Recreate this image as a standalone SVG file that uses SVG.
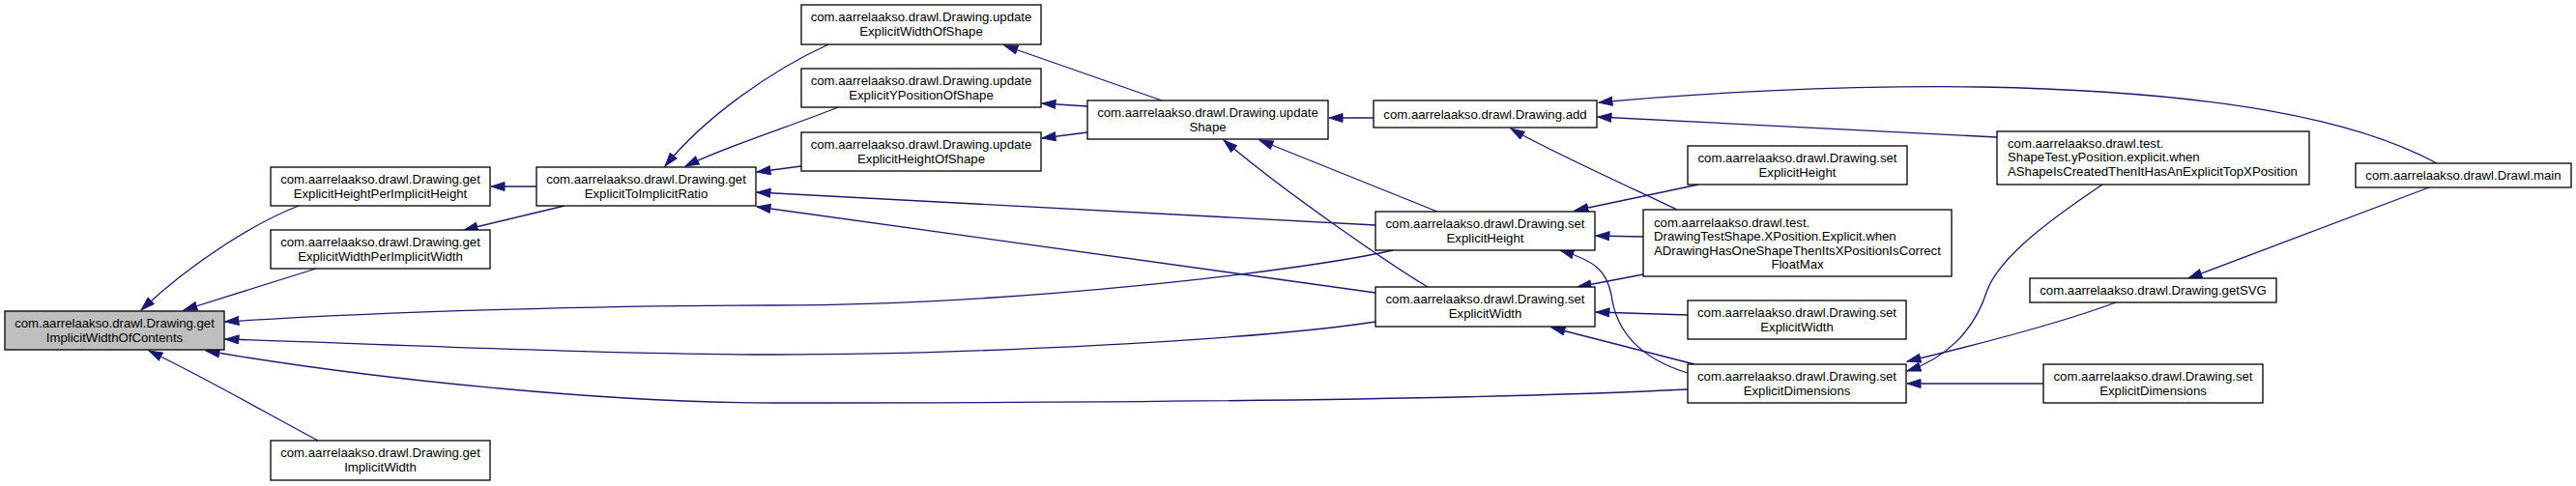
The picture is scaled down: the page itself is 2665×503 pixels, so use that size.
<svg xmlns="http://www.w3.org/2000/svg" width="2665" height="503" viewBox="0 0 2665 503">
<style>
.n rect{fill:#ffffff;stroke:#000000;stroke-width:1.3}
.n.root rect{fill:#bfbfbf}
.n text{font-family:"Liberation Sans",Arial,sans-serif;font-size:13.2px;fill:#000000;text-anchor:middle}
.n text.l{text-anchor:start}
#edges path{fill:none;stroke:#191970;stroke-width:1.3;marker-end:url(#ah)}
</style>
<defs>
<marker id="ah" markerUnits="userSpaceOnUse" markerWidth="16" markerHeight="12" refX="14.5" refY="5" orient="auto">
<path d="M0.5,0.5 L14.5,5 L0.5,9.5 z" fill="#191970" stroke="#191970" stroke-width="1"/>
</marker>
</defs>
<rect x="0" y="0" width="2665" height="503" fill="#ffffff"/>
<g id="edges">
<path d="M309,213 C265,230 200,270 146,321"/>
<path d="M327,278 L190,321"/>
<path d="M555,193 L508,193"/>
<path d="M584,213 L480,238"/>
<path d="M1441,259 C1350,280 1050,316 800,316 C640,316 400,322 233,333"/>
<path d="M1423,333 C1300,352 1000,367 800,367 C640,367 420,357 233,351"/>
<path d="M1746,403 C1500,415 1100,417 800,417 C640,417 400,395 213,363"/>
<path d="M329,456 C280,430 220,395 154,363"/>
<path d="M857,46 C800,72 730,120 688,172"/>
<path d="M867,111 C820,130 755,150 709,172"/>
<path d="M829,172 L783,178"/>
<path d="M1423,233 L783,199"/>
<path d="M1423,303 L783,214"/>
<path d="M1202,104 L1039,47"/>
<path d="M1125,110 L1078,107"/>
<path d="M1125,137 L1078,143"/>
<path d="M1421,122 L1375,122"/>
<path d="M1487,219 L1303,145"/>
<path d="M1477,297 C1445,278 1330,200 1266,145"/>
<path d="M1757,191 L1629,218"/>
<path d="M1700,245 L1651,244"/>
<path d="M1700,284 L1632,297"/>
<path d="M1735,217 C1700,200 1600,155 1563,133"/>
<path d="M1746,326 L1651,323"/>
<path d="M1753,377 L1605,339"/>
<path d="M1746,386 C1700,372 1672,345 1667,305 C1662,280 1650,270 1614,259"/>
<path d="M2114,397 L1973,397"/>
<path d="M2189,313 C2130,335 2040,358 1973,374"/>
<path d="M2175,191 C2120,228 2070,265 2056,300 C2042,345 2010,372 1973,384"/>
<path d="M2513,194 L2264,288"/>
<path d="M2521,169 C2440,125 2300,95 2050,90 C1900,88 1750,97 1654,106"/>
<path d="M2066,142 L1653,121"/>
</g>
<g id="n_root" class="n root"><rect x="5" y="322" width="227" height="40"/><text x="118.5" y="339">com.aarrelaakso.drawl.Drawing.get</text><text x="118.5" y="353.5">ImplicitWidthOfContents</text></g>
<g id="n_ehpih" class="n"><rect x="280" y="173" width="227" height="40"/><text x="393.5" y="190">com.aarrelaakso.drawl.Drawing.get</text><text x="393.5" y="204.5">ExplicitHeightPerImplicitHeight</text></g>
<g id="n_ewpiw" class="n"><rect x="280" y="238" width="227" height="40"/><text x="393.5" y="255">com.aarrelaakso.drawl.Drawing.get</text><text x="393.5" y="269.5">ExplicitWidthPerImplicitWidth</text></g>
<g id="n_giw" class="n"><rect x="280" y="456" width="227" height="41"/><text x="393.5" y="473">com.aarrelaakso.drawl.Drawing.get</text><text x="393.5" y="487.5">ImplicitWidth</text></g>
<g id="n_ratio" class="n"><rect x="555" y="173" width="227" height="40"/><text x="668.5" y="190">com.aarrelaakso.drawl.Drawing.get</text><text x="668.5" y="204.5">ExplicitToImplicitRatio</text></g>
<g id="n_uews" class="n"><rect x="829" y="5" width="248" height="41"/><text x="953" y="22">com.aarrelaakso.drawl.Drawing.update</text><text x="953" y="36.5">ExplicitWidthOfShape</text></g>
<g id="n_ueyps" class="n"><rect x="829" y="71" width="248" height="40"/><text x="953" y="88">com.aarrelaakso.drawl.Drawing.update</text><text x="953" y="102.5">ExplicitYPositionOfShape</text></g>
<g id="n_uehs" class="n"><rect x="829" y="137" width="248" height="40"/><text x="953" y="154">com.aarrelaakso.drawl.Drawing.update</text><text x="953" y="168.5">ExplicitHeightOfShape</text></g>
<g id="n_us" class="n"><rect x="1125" y="104" width="249" height="40"/><text x="1249.5" y="121">com.aarrelaakso.drawl.Drawing.update</text><text x="1249.5" y="135.5">Shape</text></g>
<g id="n_add" class="n"><rect x="1421" y="104" width="231" height="28"/><text x="1536.5" y="122.5">com.aarrelaakso.drawl.Drawing.add</text></g>
<g id="n_seh" class="n"><rect x="1423" y="219" width="227" height="40"/><text x="1536.5" y="236">com.aarrelaakso.drawl.Drawing.set</text><text x="1536.5" y="250.5">ExplicitHeight</text></g>
<g id="n_sew" class="n"><rect x="1423" y="297" width="227" height="41"/><text x="1536.5" y="314">com.aarrelaakso.drawl.Drawing.set</text><text x="1536.5" y="328.5">ExplicitWidth</text></g>
<g id="n_seh2" class="n"><rect x="1746" y="151" width="227" height="40"/><text x="1859.5" y="168">com.aarrelaakso.drawl.Drawing.set</text><text x="1859.5" y="182.5">ExplicitHeight</text></g>
<g id="n_dts" class="n"><rect x="1700" y="217" width="319" height="69"/><text class="l" x="1711" y="234.5">com.aarrelaakso.drawl.test.</text><text class="l" x="1711" y="249">DrawingTestShape.XPosition.Explicit.when</text><text class="l" x="1711" y="263.5">ADrawingHasOneShapeThenItsXPositionIsCorrect</text><text x="1859.5" y="278">FloatMax</text></g>
<g id="n_sew2" class="n"><rect x="1746" y="311" width="226" height="40"/><text x="1859" y="328">com.aarrelaakso.drawl.Drawing.set</text><text x="1859" y="342.5">ExplicitWidth</text></g>
<g id="n_sed" class="n"><rect x="1746" y="377" width="226" height="40"/><text x="1859" y="394">com.aarrelaakso.drawl.Drawing.set</text><text x="1859" y="408.5">ExplicitDimensions</text></g>
<g id="n_st" class="n"><rect x="2066" y="136" width="323" height="55"/><text class="l" x="2077" y="152.5">com.aarrelaakso.drawl.test.</text><text class="l" x="2077" y="167">ShapeTest.yPosition.explicit.when</text><text class="l" x="2077" y="181.5">AShapeIsCreatedThenItHasAnExplicitTopXPosition</text></g>
<g id="n_svg" class="n"><rect x="2100" y="288" width="255" height="25"/><text x="2227.5" y="305">com.aarrelaakso.drawl.Drawing.getSVG</text></g>
<g id="n_sed2" class="n"><rect x="2114" y="377" width="227" height="40"/><text x="2227.5" y="394">com.aarrelaakso.drawl.Drawing.set</text><text x="2227.5" y="408.5">ExplicitDimensions</text></g>
<g id="n_main" class="n"><rect x="2437" y="169" width="223" height="25"/><text x="2548.5" y="186">com.aarrelaakso.drawl.Drawl.main</text></g>
</svg>
